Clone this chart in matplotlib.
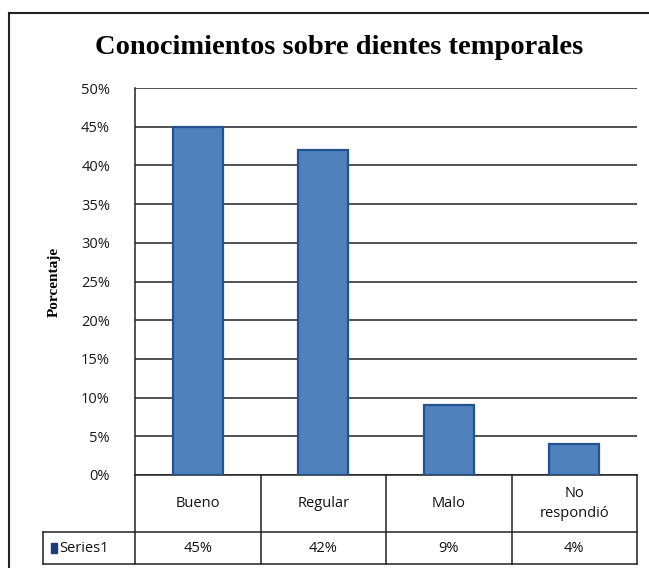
import numpy as np
import matplotlib.pyplot as plt
from matplotlib.lines import Line2D
from matplotlib.patches import Rectangle
import matplotlib.transforms as mtransforms

# Datos
categorias = ["Bueno", "Regular", "Malo", "No\nrespondió"]
porcentajes = [45, 42, 9, 4]
serie = "Series1"
titulo = "Conocimientos sobre dientes temporales"
etiqueta_y = "Porcentaje"
ticks_y = [0, 5, 10, 15, 20, 25, 30, 35, 40, 45, 50]

W, H = 649, 568
fig = plt.figure(figsize=(W / 100, H / 100), dpi=100)

# area del grafico (en pixeles)
x0, x1, y_top, y_bot = 135, 637, 88, 475
ax = fig.add_axes([x0 / W, 1 - y_bot / H, (x1 - x0) / W, (y_bot - y_top) / H])

x = np.arange(len(categorias))
ax.bar(x, porcentajes, width=0.4, color="#4F81BD", edgecolor="#22528f",
       linewidth=1.6, zorder=3)

ax.set_xlim(-0.5, len(categorias) - 0.5)
ax.set_ylim(0, 50)
ax.set_yticks(ticks_y)
ax.set_yticklabels([f"{t}%" for t in ticks_y], fontfamily="Open Sans",
                   fontsize=10.5, color="#1a1a1a")
ax.tick_params(axis="y", length=0, pad=18)
ax.tick_params(axis="x", bottom=False, labelbottom=False)
ax.grid(axis="y", color="#222222", linewidth=1.1, zorder=0)
for s in ["top", "right", "bottom"]:
    ax.spines[s].set_visible(False)
ax.spines["left"].set_color("#222222")
ax.spines["left"].set_linewidth(1.1)

ax.set_ylabel(etiqueta_y, fontfamily="Liberation Serif", fontweight="bold",
              fontsize=11)
ax.yaxis.set_label_coords((61 - x0) / (x1 - x0), 0.5)

# tabla de datos debajo del grafico
alto = y_bot - y_top
f1 = -(532 - y_bot) / alto
f2 = -(564 - y_bot) / alto
trans = mtransforms.blended_transform_factory(ax.transData, ax.transAxes)
kw = dict(color="#222222", linewidth=1.1, clip_on=False, transform=trans)
lx = -0.5 - (x0 - 43) / (x1 - x0) * len(categorias)
ax.add_line(Line2D([-0.5, 3.5], [0, 0], **kw))
ax.add_line(Line2D([lx, 3.5], [f1, f1], **kw))
ax.add_line(Line2D([lx, 3.5], [f2, f2], **kw))
ax.add_line(Line2D([lx, lx], [f1, f2], **kw))
for b in np.arange(len(categorias) + 1) - 0.5:
    ax.add_line(Line2D([b, b], [0, f2], **kw))

for i, (c, v) in enumerate(zip(categorias, porcentajes)):
    ax.text(i, f1 / 2, c, transform=trans, ha="center", va="center",
            fontfamily="Open Sans", fontsize=10.5, color="#111111",
            linespacing=1.4)
    ax.text(i, (f1 + f2) / 2, f"{v}%", transform=trans, ha="center",
            va="center", fontfamily="Open Sans", fontsize=10.5, color="#111111")

ax.add_patch(Rectangle((lx + 0.06, (f1 + f2) / 2 - 0.012), 0.05, 0.024,
                       transform=trans, color="#1F3A7A", clip_on=False))
ax.text(lx + 0.13, (f1 + f2) / 2, serie, transform=trans, ha="left",
        va="center", fontfamily="Open Sans", fontsize=10.5, color="#111111")

# titulo y marco
fig.text(0.522, 1 - 48 / H, titulo, ha="center", va="center",
         fontfamily="Liberation Serif", fontweight="bold", fontsize=20.5)
fig.add_artist(Line2D([9 / W, 9 / W], [0, 1 - 13 / H], color="#222222",
                      linewidth=1.5, transform=fig.transFigure))
fig.add_artist(Line2D([9 / W, 1], [1 - 13 / H, 1 - 13 / H], color="#222222",
                      linewidth=1.5, transform=fig.transFigure))

fig.savefig("out.png", dpi=100)
